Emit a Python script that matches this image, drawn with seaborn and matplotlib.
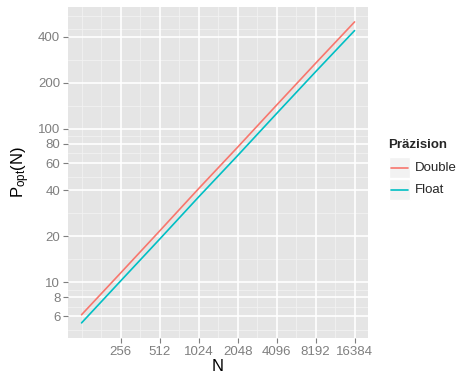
import numpy as np
import pandas as pd
import matplotlib
matplotlib.use("Agg")
import matplotlib.pyplot as plt
import seaborn as sns
from matplotlib.patches import Rectangle
from matplotlib.lines import Line2D

# data
n_values = [128, 256, 512, 1024, 2048, 4096, 8192, 16384]
p_double = [6.15, 11.5, 21.6, 40.8, 76.0, 143.0, 268.0, 499.0]
p_float = [5.44, 10.2, 19.1, 36.0, 67.0, 126.0, 236.0, 438.0]
series = ["Double", "Float"]
colors = ["#F8766D", "#00BFC4"]

x_ticks = [256, 512, 1024, 2048, 4096, 8192, 16384]
y_ticks = [6, 8, 10, 20, 40, 60, 80, 100, 200, 400]
y_extra = [4, 500, 600]  # breaks outside the range, only used for minor grid

df = pd.DataFrame({
    "N": n_values * 2,
    "P": p_double + p_float,
    "Präzision": [series[0]] * len(n_values) + [series[1]] * len(n_values),
})

sns.set_theme(style="white")
plt.rcParams["font.family"] = ["Liberation Sans", "DejaVu Sans"]

fig = plt.figure(figsize=(4.62, 3.81), dpi=100)
ax = fig.add_axes([0.147, 0.113, 0.65, 0.869])
ax.set_facecolor("#E5E5E5")

ax.set_xscale("log", base=2)
ax.set_yscale("log")

# ggplot-like limits with 5% expansion in transformed space
lx = np.log2([min(n_values), max(n_values)])
dx = (lx[1] - lx[0]) * 0.05
ax.set_xlim(2 ** (lx[0] - dx), 2 ** (lx[1] + dx))
ly = np.log10([min(p_float), max(p_double)])
dy = (ly[1] - ly[0]) * 0.05
ax.set_ylim(10 ** (ly[0] - dy), 10 ** (ly[1] + dy))

# minor grid at geometric midpoints of breaks
xb = [128] + x_ticks + [32768]
x_minor = [np.sqrt(a * b) for a, b in zip(xb[:-1], xb[1:])] + [128]
yb = sorted(y_ticks + y_extra)
y_minor = [np.sqrt(a * b) for a, b in zip(yb[:-1], yb[1:])]
for xm in x_minor:
    ax.axvline(xm, color="#F2F2F2", lw=0.6, zorder=0)
for ym in y_minor:
    ax.axhline(ym, color="#F2F2F2", lw=0.6, zorder=0)
for xt in x_ticks:
    ax.axvline(xt, color="white", lw=1.2, zorder=0.5)
for yt in y_ticks:
    ax.axhline(yt, color="white", lw=1.2, zorder=0.5)

sns.lineplot(data=df, x="N", y="P", hue="Präzision", palette=colors,
             linewidth=1.2, ax=ax, legend=False, zorder=3)

ax.set_xticks(x_ticks)
ax.set_xticklabels([str(v) for v in x_ticks])
ax.set_yticks(y_ticks)
ax.set_yticklabels([str(v) for v in y_ticks])
ax.xaxis.set_minor_locator(matplotlib.ticker.NullLocator())
ax.yaxis.set_minor_locator(matplotlib.ticker.NullLocator())
ax.tick_params(axis="both", which="major", length=3.5, width=0.8,
               color="#7F7F7F", labelcolor="#7F7F7F", labelsize=9.5, pad=2,
               bottom=True, left=True)
for s in ax.spines.values():
    s.set_visible(False)

ax.set_xlabel("N", fontsize=12, color="black", labelpad=1)
ax.set_ylabel(r"$\mathregular{P_{opt}(N)}$", fontsize=12, color="black", labelpad=4)

# legend ggplot style
fig.text(388 / 462, 1 - 145 / 381, "Präzision", fontsize=9.5, fontweight="bold",
         va="center", ha="left")
key_w, key_h = 21 / 462, 21 / 381
for i, (name, col) in enumerate(zip(series, colors)):
    y0 = 1 - (157 + 22 * i) / 381 - key_h
    fig.patches.append(Rectangle((389 / 462, y0), key_w, key_h,
                                 transform=fig.transFigure, facecolor="#F2F2F2",
                                 edgecolor="white", lw=1))
    fig.lines.append(Line2D([391 / 462, 408 / 462], [y0 + key_h / 2] * 2,
                            transform=fig.transFigure, color=col, lw=1.2))
    fig.text(415 / 462, y0 + key_h / 2, name, fontsize=9.5, va="center", ha="left")

fig.savefig("out.png", dpi=100)
